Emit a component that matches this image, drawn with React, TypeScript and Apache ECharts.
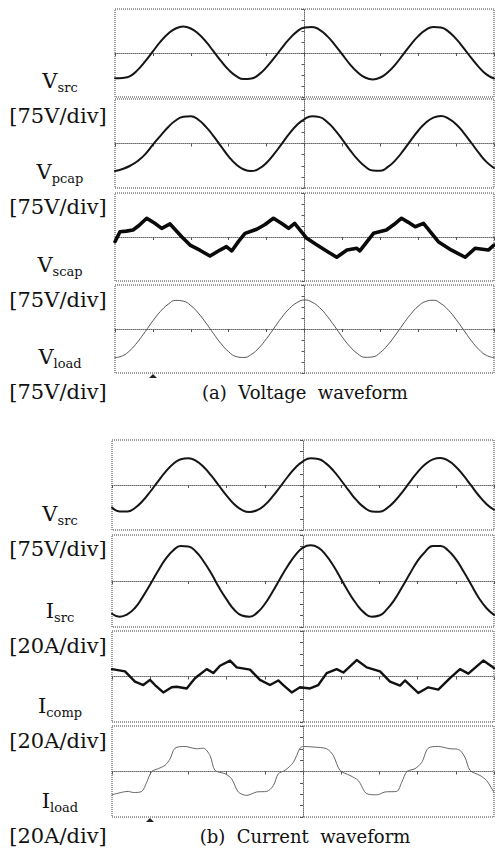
import React, { useEffect, useRef } from 'react';
import * as echarts from 'echarts';

// ---------- data (time in ms across 10 div of 5 ms, trigger at 25 ms) ----------
const timeMs = [0,1,2,3,4,5,6,7,8,9,10,11,12,13,14,15,16,17,18,19,20,21,22,23,24,25,26,27,28,29,30,31,32,33,34,35,36,37,38,39,40,41,42,43,44,45,46,47,48,49,50];
const TRIGGER_MS = 25;
const MS_PER_DIV = 5;
const V_PER_DIV = 75;
const A_PER_DIV = 20;

// (a) Voltage waveform
const vSrcA = [-172,-170,-158,-115,-56,11,77,131,167,180,167,131,77,11,-56,-115,-158,-178,-174,-146,-96,-34,34,96,146,174,178,158,115,56,-11,-77,-131,-167,-180,-167,-131,-77,-11,56,115,158,178,174,146,96,34,-34,-96,-146,-174];
const vPcap = [-186,-172,-150,-118,-72,-8,52,110,155,180,184,160,112,50,-20,-88,-142,-175,-186,-170,-130,-70,-2,66,125,165,184,178,145,92,26,-44,-107,-155,-182,-184,-158,-112,-50,20,86,140,174,185,168,130,72,5,-64,-124,-165];
const vScapPts = [[0,-32],[0.66,36],[1.5,40],[2.37,48],[3.2,80],[4.18,128],[5.2,95],[6.16,59],[7.26,89],[8.8,2],[9.9,-55],[11.2,-90],[12.53,-130],[13.85,-89],[14.7,-66],[15.4,-95],[16.3,-30],[17.15,25],[18.7,53],[19.8,85],[20.9,128],[21.9,95],[22.9,59],[23.7,93],[25.3,-9],[26.5,-50],[27.9,-95],[29.25,-138],[30.6,-89],[31.9,-77],[32.3,-95],[33.2,-35],[34.1,25],[35.8,48],[36.8,85],[37.8,128],[38.7,100],[39.6,70],[40.7,93],[42.65,-32],[44.4,-90],[46.2,-138],[47.5,-77],[49.25,-89],[50,-55]];
const vLoad = [-195,-183,-145,-87,-17,56,120,168,195,190,160,108,41,-32,-100,-155,-188,-194,-173,-128,-65,7,79,139,180,198,183,145,87,17,-56,-120,-168,-193,-190,-160,-108,-41,32,100,155,188,196,173,128,65,-7,-79,-139,-180,-195];

// (b) Current waveform
const vSrcB = [-150,-176,-177,-153,-107,-45,23,87,140,172,179,161,120,62,-5,-71,-128,-166,-180,-168,-133,-78,-13,55,115,158,179,174,144,94,30,-38,-101,-149,-176,-178,-154,-108,-47,21,86,138,171,180,162,122,64,-3,-70,-126,-165];
const iSrc = [-57,-62,-58,-47,-28,-6,17,38,53,61,60,51,34,13,-11,-32,-50,-60,-62,-55,-40,-19,4,26,45,58,62,58,45,26,3,-20,-40,-55,-62,-60,-49,-32,-10,13,35,51,61,61,53,38,17,-6,-29,-47,-59];
const iCompPts = [[0,13],[1.7,9],[3.01,-9],[4.1,-15],[4.97,-6],[5.63,-15],[6.71,-28],[7.81,-19],[8.47,-18],[9.78,-21],[10.86,-3],[12.4,13],[13.26,6],[14.14,19],[15.45,28],[16.32,16],[18.06,12],[19.37,-6],[20.68,-15],[21.77,-7],[22.42,-15],[23.52,-28],[24.61,-19],[25.92,-21],[27.0,-15],[28.1,6],[29.41,13],[30.28,7],[32.03,29],[33.34,16],[35.08,9],[36.39,-9],[37.7,-16],[38.35,-7],[39.0,-15],[40.09,-29],[41.4,-19],[42.71,-23],[44.24,-3],[45.55,13],[46.64,5],[48.6,28],[50,15]];
const iLoadPts = [[0,-41],[1.48,-36],[2.13,-35],[2.79,-37],[3.89,-35],[4.54,-19],[5.2,0],[6.06,5],[6.94,11],[7.59,22],[8.25,41],[9.55,44],[11.09,40],[11.95,41],[12.83,28],[13.48,2],[14.79,-4],[15.67,-13],[16.53,-36],[17.63,-42],[18.94,-36],[20.25,-35],[21.11,-25],[21.77,-4],[22.64,2],[23.73,16],[24.61,41],[25.04,44],[26.35,43],[28.1,40],[28.97,28],[29.84,2],[31.15,-7],[32.24,-16],[33.34,-39],[34.65,-41],[35.73,-36],[37.27,-35],[37.92,-19],[38.61,0],[39.66,5],[40.54,16],[41.4,41],[42.71,44],[44.24,40],[45.33,39],[46.2,25],[46.86,2],[48.17,-7],[49.04,-16],[50,-37]];

// texts
const traceNames = [['V','src'],['V','pcap'],['V','scap'],['V','load'],['V','src'],['I','src'],['I','comp'],['I','load']];
const scaleLabels = ['[75V/div]','[75V/div]','[75V/div]','[75V/div]','[75V/div]','[20A/div]','[20A/div]','[20A/div]'];
const captions = ['(a)  Voltage  waveform', '(b)  Current  waveform'];

const SERIF = '"DejaVu Serif", "Liberation Serif", serif';

function uniform(values: number[]) {
  return timeMs.map((t, i) => [t - TRIGGER_MS, values[i]]);
}
function pairs(pts: number[][]) {
  return pts.map(([t, v]) => [t - TRIGGER_MS, v]);
}

let measureCtx: CanvasRenderingContext2D | null = null;
function textWidth(text: string, font: string) {
  if (!measureCtx) measureCtx = document.createElement('canvas').getContext('2d');
  if (!measureCtx) return text.length * 10;
  measureCtx.font = font;
  return measureCtx.measureText(text).width;
}

function buildOption() {
  const layout = [
    { left: 115, top: 9, width: 379, height: 88 },
    { left: 115, top: 99, width: 379, height: 89 },
    { left: 115, top: 193, width: 379, height: 88 },
    { left: 115, top: 285, width: 379, height: 88 },
    { left: 112, top: 440, width: 382, height: 90 },
    { left: 112, top: 535, width: 382, height: 92 },
    { left: 112, top: 631, width: 382, height: 91 },
    { left: 112, top: 726, width: 382, height: 91 },
  ];
  const traces = [
    { data: uniform(vSrcA), unit: V_PER_DIV, color: '#151515', width: 2, smooth: true },
    { data: uniform(vPcap), unit: V_PER_DIV, color: '#151515', width: 2, smooth: true },
    { data: pairs(vScapPts), unit: V_PER_DIV, color: '#0a0a0a', width: 3.6, smooth: false },
    { data: uniform(vLoad), unit: V_PER_DIV, color: '#555', width: 1, smooth: true },
    { data: uniform(vSrcB), unit: V_PER_DIV, color: '#151515', width: 2, smooth: true },
    { data: uniform(iSrc), unit: A_PER_DIV, color: '#151515', width: 2, smooth: true },
    { data: pairs(iCompPts), unit: A_PER_DIV, color: '#111', width: 2.4, smooth: false },
    { data: pairs(iLoadPts), unit: A_PER_DIV, color: '#666', width: 1, smooth: 0.3 },
  ];

  const grid = layout.map((l) => ({
    ...l,
    show: true,
    borderColor: '#3a3a3a',
    borderWidth: 1,
    borderType: 'dotted',
    backgroundColor: '#fff',
    containLabel: false,
  }));

  const centerLine = { show: true, onZero: true, lineStyle: { color: '#6a6a6a', width: 1, type: 'dotted' } };
  const xAxis = layout.map((_, i) => ({
    gridIndex: i,
    type: 'value',
    min: -TRIGGER_MS,
    max: TRIGGER_MS,
    interval: MS_PER_DIV,
    axisLine: centerLine,
    axisTick: { show: true, length: 3, lineStyle: { color: '#555', width: 1 } },
    axisLabel: { show: false },
    splitLine: { show: false },
  }));
  const yAxis = traces.map((tr, i) => ({
    gridIndex: i,
    type: 'value',
    min: -4 * tr.unit,
    max: 4 * tr.unit,
    interval: tr.unit,
    axisLine: centerLine,
    axisTick: { show: true, length: 3, lineStyle: { color: '#555', width: 1 } },
    axisLabel: { show: false },
    splitLine: { show: false },
  }));
  const series = traces.map((tr, i) => ({
    type: 'line',
    xAxisIndex: i,
    yAxisIndex: i,
    data: tr.data,
    showSymbol: false,
    symbol: 'none',
    smooth: tr.smooth,
    clip: true,
    silent: true,
    z: 5,
    lineStyle: { color: tr.color, width: tr.width, cap: 'round', join: 'round' },
  }));

  const mainFont = `21px ${SERIF}`;
  const subFont = `13px ${SERIF}`;
  const graphic: any[] = [];
  layout.forEach((l, i) => {
    const [main, sub] = traceNames[i];
    const bottom = l.top + l.height;
    const wMain = textWidth(main, mainFont);
    const wSub = textWidth(sub, subFont);
    const x0 = 60 - (wMain + wSub) / 2;
    const yName = bottom - 16;
    graphic.push({
      type: 'text', x: x0, y: yName, silent: true,
      style: { text: main, font: mainFont, fill: '#111', textAlign: 'left', textVerticalAlign: 'middle', align: 'left', verticalAlign: 'middle' },
    });
    graphic.push({
      type: 'text', x: x0 + wMain, y: yName + 6, silent: true,
      style: { text: sub, font: subFont, fill: '#111', textAlign: 'left', textVerticalAlign: 'middle', align: 'left', verticalAlign: 'middle' },
    });
    graphic.push({
      type: 'text', x: 58, y: bottom + 19, silent: true,
      style: { text: scaleLabels[i], font: mainFont, fill: '#111', textAlign: 'center', textVerticalAlign: 'middle', align: 'center', verticalAlign: 'middle' },
    });
  });
  [3, 7].forEach((pi, k) => {
    const l = layout[pi];
    const bottom = l.top + l.height;
    graphic.push({
      type: 'text', x: 305, y: bottom + 19, silent: true,
      style: { text: captions[k], font: `18px ${SERIF}`, fill: '#111', textAlign: 'center', textVerticalAlign: 'middle', align: 'center', verticalAlign: 'middle' },
    });
    graphic.push({
      type: 'polygon', silent: true,
      shape: { points: [[l.left + 34, bottom + 5], [l.left + 42, bottom + 5], [l.left + 38, bottom + 1]] },
      style: { fill: '#222' },
    });
  });

  return {
    animation: false,
    backgroundColor: '#fff',
    grid,
    xAxis,
    yAxis,
    series,
    graphic,
  };
}

export default function App() {
  const ref = useRef<HTMLDivElement>(null);
  useEffect(() => {
    if (!ref.current) return;
    const chart = echarts.init(ref.current, undefined, { renderer: 'svg' });
    chart.setOption(buildOption() as any);
    return () => chart.dispose();
  }, []);
  return (
    <div
      ref={ref}
      style={{ position: 'fixed', left: 0, top: 0, width: 495, height: 856, background: '#fff' }}
    />
  );
}
